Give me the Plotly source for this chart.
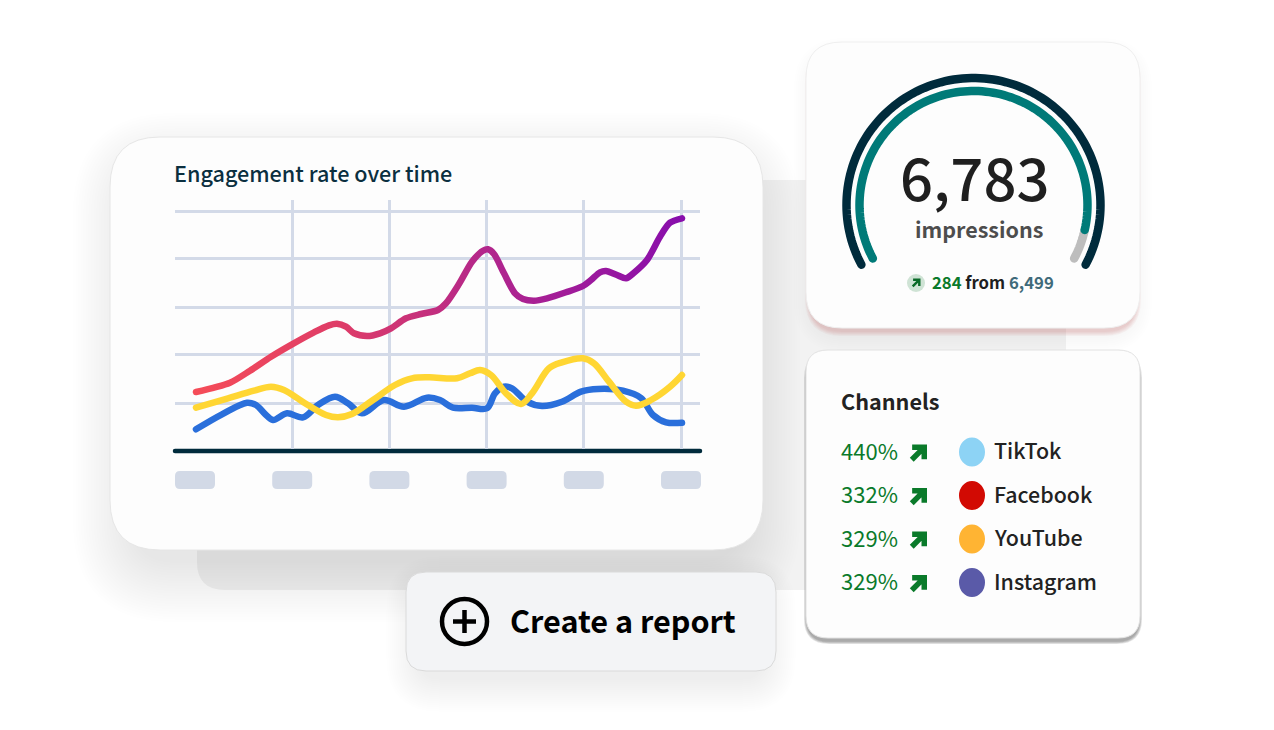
# -*- coding: utf-8 -*-
import numpy as np
import plotly.graph_objects as go

WIDTH = 1274
HEIGHT = 730
FONT = 'Noto Sans CJK SC'

# line chart values
purple_x = [1, 35, 55, 76, 97, 119, 134, 142, 151, 159, 172, 185, 196, 211, 226, 243, 251, 264, 277, 288,
            293, 299, 309, 320, 328, 339, 352, 371, 388, 396, 405, 411, 422, 431, 439, 452, 465, 475, 487]
purple_y = [59, 68.3, 80.3, 94.3, 106.7, 118.7, 125.7, 127.3, 124.3, 117.7, 115, 117.7, 122.7, 132.7, 137, 141,
            147.7, 167, 189.3, 200.3, 201.7, 197, 177.7, 157.7, 152, 150.3, 152.7, 158.7, 165, 171, 178.7, 180,
            176, 172.7, 178.3, 191, 214.3, 228.3, 232.7]
yellow_x = [1, 33, 59, 76, 89, 110, 131, 143, 157, 178, 200, 217, 234, 262, 275, 285, 296, 311, 326, 337,
            354, 367, 388, 399, 414, 431, 441, 456, 475, 487]
yellow_y = [43.3, 52.7, 60.3, 64.3, 61, 47.7, 36, 33.7, 37, 51, 66, 72.7, 73.7, 72.7, 77.7, 81, 76, 57.7, 47,
            57.7, 82.7, 88.7, 92.7, 87.7, 69.3, 49.3, 45.3, 51, 64.3, 76]
blue_x = [1, 27, 52, 61, 70, 78, 92, 108, 123, 140, 153, 167, 189, 209, 232, 245, 258, 277, 292, 300, 309, 317,
          332, 347, 367, 386, 403, 428, 446, 458, 471, 487]
blue_y = [21.7, 36.7, 48.3, 46, 37, 31, 37.7, 33.7, 46, 54.3, 47.7, 37.7, 51, 44.3, 53.3, 51, 43.3, 43.3, 42.7,
          57.7, 64.3, 62.7, 49.3, 45, 49.3, 59.3, 62, 60.3, 53, 36, 28.7, 28.3]
x_ticks = [97.2, 194.4, 291.6, 388.8, 486]
y_ticks = [48, 97, 144, 193, 240]
label_slots = [0, 97.2, 194.4, 291.6, 388.8, 486]

# gauge values
impressions = 6783
gauge_max = 7255
previous = 6499
change = 284

# channels table
channels = ['TikTok', 'Facebook', 'YouTube', 'Instagram']
channel_pct = ['440%', '332%', '329%', '329%']
channel_colors = ['#8dd3f5', '#d20a03', '#ffb433', '#5a5aa8']

NAVY = '#002b3c'
TEAL = '#007a78'
GREEN = '#0a7a2a'
GRID = '#d3dae8'
LINE_MID = '#b2268c'

# plotly has no gradient strokes or round line caps, so these are set once the page has drawn
POST_SCRIPT = """
document.body.style.margin = '0';
document.body.style.overflow = 'hidden';
var ns = 'http://www.w3.org/2000/svg';
var grad = document.createElementNS(ns, 'linearGradient');
grad.setAttribute('id', 'line-fade');
[[0, '#f54c58'], [0.3, '#de3c68'], [0.6, '#b2268c'], [1, '#880eac']].forEach(function (s) {
    var stop = document.createElementNS(ns, 'stop');
    stop.setAttribute('offset', s[0]);
    stop.setAttribute('stop-color', s[1]);
    grad.appendChild(stop);
});
document.querySelector('.main-svg defs').appendChild(grad);
document.querySelectorAll('.js-line').forEach(function (p) {
    p.style.strokeLinecap = 'round';
    if (p.style.stroke === 'rgb(178, 38, 140)') {
        p.style.stroke = 'url(#line-fade)';
    }
});
"""


def rounded(x0, y0, x1, y1, r):
    return ('M {a},{t} L {b},{t} Q {x1},{t} {x1},{c} L {x1},{d} Q {x1},{y1} {b},{y1} '
            'L {a},{y1} Q {x0},{y1} {x0},{d} L {x0},{c} Q {x0},{t} {a},{t} Z').format(
        a=x0 + r, b=x1 - r, c=y0 + r, d=y1 - r, t=y0, x0=x0, x1=x1, y1=y1)


def box(x0, y0, x1, y1, r, fill, line=None, width=1):
    return dict(type='path', xref='x', yref='y', layer='below', path=rounded(x0, y0, x1, y1, r),
                fillcolor=fill, line=dict(color=line or 'rgba(0,0,0,0)', width=width))


def shadow(x0, y0, x1, y1, r, rgb, spread, steps, alpha):
    # soft shadow faked with stacked see-through boxes
    out = []
    for i in range(steps, 0, -1):
        s = spread * i / steps
        out.append(box(x0 - s, y0 - s, x1 + s, y1 + s, r + s, 'rgba({},{})'.format(rgb, alpha)))
    return out


def arrow(cx, cy, size, color, width):
    h = size / 2
    w = width / 2
    return dict(type='path', xref='x', yref='y', layer='below',
                path='M {},{} L {},{} M {},{} L {},{} L {},{}'.format(
                    cx - h + w, cy + h - w, cx + h - w * 1.5, cy - h + w * 1.5,
                    cx - h * 0.65, cy - h + w, cx + h - w, cy - h + w, cx + h - w, cy + h * 0.65),
                line=dict(color=color, width=width))


def arc(cx, cy, r, start, end):
    t = np.radians(np.linspace(start, end, 120))
    return cx + r * np.cos(t), cy - r * np.sin(t)


shapes = []
# back panel
shapes.append(box(197, 180, 1066, 590, 28, '#f2f2f2'))
# main card
shapes += shadow(135, 175, 738, 560, 40, '90,95,100', 62, 24, 0.006)
shapes.append(box(110, 137, 763, 550, 50, '#fdfdfd', '#e6e6e6', 1))
for v in label_slots:
    shapes.append(box(175 + v, 471, 215 + v, 489, 5, '#d2d9e6'))

# button
shapes += shadow(420, 590, 762, 678, 20, '80,80,80', 34, 17, 0.0055)
shapes.append(box(406, 572, 776, 671, 20, '#f3f4f6', '#dadada', 1))
shapes.append(dict(type='circle', xref='x', yref='y', layer='below', x0=442, y0=599, x1=487, y1=644,
                   line=dict(color='#000000', width=4.5)))
shapes.append(dict(type='path', xref='x', yref='y', layer='below', path='M 453,621.5 L 476,621.5 M 464.5,610 L 464.5,633',
                   line=dict(color='#000000', width=4.5)))

# gauge card
shapes += shadow(816, 60, 1130, 330, 30, '130,130,130', 22, 11, 0.006)
shapes += shadow(810, 50, 1136, 331, 32, '200,70,70', 5, 5, 0.05)
shapes.append(box(806, 42, 1140, 328, 36, '#fdfdfd', '#efefef', 1))
shapes.append(dict(type='circle', xref='x', yref='y', layer='below', x0=907, y0=274, x1=925, y1=292,
                   fillcolor='#cfe3d5', line=dict(width=0)))
shapes.append(arrow(916, 283, 9, '#0a6a28', 2.4))

# channels card
shapes += shadow(816, 370, 1130, 640, 20, '130,130,130', 22, 11, 0.005)
shapes += shadow(807, 356, 1139, 641, 22, '70,70,70', 3, 4, 0.14)
shapes.append(box(806, 350, 1140, 638, 22, '#fdfdfd', '#e2e2e2', 1))

row_y = [451.5, 495, 538.5, 582]
annotations = []


def label(x, y, text, size, color, anchor='left', weight=400):
    annotations.append(dict(x=x, y=y, xref='x', yref='y', text=text, showarrow=False, xanchor=anchor, yanchor='middle',
                            xshift=-2 if anchor == 'left' else 0, yshift=2,
                            font=dict(family=FONT, size=size, color=color, weight=weight)))


for y, name, pct, col in zip(row_y, channels, channel_pct, channel_colors):
    shapes.append(arrow(918, y + 2, 18, GREEN, 5.5))
    shapes.append(dict(type='circle', xref='x', yref='y', layer='below', x0=959, x1=985, y0=y - 14, y1=y + 15,
                       fillcolor=col, line=dict(width=0)))
    label(841, y, pct, 22, GREEN)
    label(994, y, name, 21.4, '#222222', weight=500)

label(174, 174, 'Engagement rate over time', 21.6, '#0b2f3f', weight=500)
label(975, 178, '{:,}'.format(impressions), 58, '#1f1f1f', 'center', 500)
label(979, 230, 'impressions', 21.5, '#4d4d4d', 'center', 700)
label(932, 284, '<span style="color:{}">{}</span> from <span style="color:#3f6a7a">{:,}</span>'.format(GREEN, change, previous),
      16.7, '#1f1f1f', 'left', 700)
label(841, 402, 'Channels', 21.6, '#222222', 'left', 700)
label(510, 622, 'Create a report', 30.6, '#000000', 'left', 700)

fig = go.Figure()

# gauge arcs sit on the page axes
span_start, span_end = 208, -28
done = span_start + (span_end - span_start) * impressions / gauge_max
for r, a, b, color in [(127, span_start, span_end, NAVY), (114, done, span_end, '#bdbdbd'), (114, span_start, done, TEAL)]:
    ax, ay = arc(973.5, 205, r, a, b)
    fig.add_trace(go.Scatter(x=ax, y=ay, mode='lines', line=dict(color=color, width=8.5, simplify=False), xaxis='x', yaxis='y'))

# baseline also on the page axes, the chart axes would clip it
fig.add_trace(go.Scatter(x=[175, 700], y=[451, 451], mode='lines', line=dict(color=NAVY, width=4.5), xaxis='x', yaxis='y'))

fig.add_trace(go.Scatter(x=purple_x, y=purple_y, mode='lines', line=dict(color=LINE_MID, width=6.5, shape='spline', smoothing=0.8),
                         xaxis='x2', yaxis='y2'))
fig.add_trace(go.Scatter(x=blue_x, y=blue_y, mode='lines', line=dict(color='#2a6fdb', width=6.5, shape='spline', smoothing=1),
                         xaxis='x2', yaxis='y2'))
fig.add_trace(go.Scatter(x=yellow_x, y=yellow_y, mode='lines', line=dict(color='#ffd633', width=6.5, shape='spline', smoothing=1),
                         xaxis='x2', yaxis='y2'))

fig.update_traces(hoverinfo='skip', showlegend=False)

fig.update_layout(
    width=WIDTH,
    height=HEIGHT,
    margin=dict(l=0, r=0, t=0, b=0),
    paper_bgcolor='#ffffff',
    plot_bgcolor='rgba(0,0,0,0)',
    showlegend=False,
    shapes=shapes,
    annotations=annotations,
    xaxis=dict(domain=[0, 1], range=[0, WIDTH], visible=False, fixedrange=True),
    yaxis=dict(domain=[0, 1], range=[HEIGHT, 0], visible=False, fixedrange=True),
    xaxis2=dict(domain=[175 / WIDTH, 700 / WIDTH], range=[-20, 505], anchor='y2', tickvals=x_ticks, showticklabels=False,
                ticks='', gridcolor=GRID, gridwidth=3, zeroline=False, fixedrange=True),
    yaxis2=dict(domain=[(HEIGHT - 449) / HEIGHT, (HEIGHT - 200) / HEIGHT], range=[2, 251], anchor='x2', tickvals=y_ticks,
                showticklabels=False, ticks='', gridcolor=GRID, gridwidth=3, zeroline=False, fixedrange=True),
)

fig.write_html('out.html', config={'displayModeBar': False, 'staticPlot': True}, post_script=POST_SCRIPT)
